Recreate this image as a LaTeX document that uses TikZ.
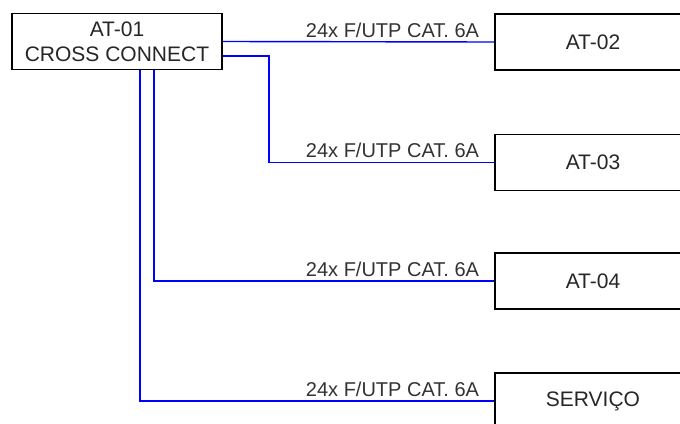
\documentclass[tikz,border=0pt]{standalone}
\usepackage{fontspec}
\setmainfont{Liberation Sans}
\begin{document}
\begin{tikzpicture}[x=1pt,y=-1pt,
 box/.style={draw=black,line width=1.6pt,minimum height=56pt,minimum width=196pt,inner sep=0pt,font=\fontsize{21}{25}\selectfont,text=black!85},
 cable/.style={draw=blue,line width=1.4pt},
 lbl/.style={anchor=base east,font=\fontsize{20}{22}\selectfont,text=black!80,inner sep=0pt}]
\useasboundingbox (0,0) rectangle (680,423);
\clip (0,0) rectangle (680,423);
\node[box,minimum width=210pt,align=center] (at01) at (117,41.5) {AT-01\\CROSS CONNECT};
\node[box] (at02) at (593,42) {AT-02};
\node[box] (at03) at (593,162.5) {AT-03};
\node[box] (at04) at (593,281) {AT-04};
\node[box] (serv) at (593,401) {SERVIÇO};
\draw[cable] (at01.east) -- (at02.west);
\draw[cable] ([yshift=-14.5pt]at01.east) -- ++(46,0) |- (at03.west);
\draw[cable] ([xshift=37pt]at01.south) |- (at04.west);
\draw[cable] ([xshift=23pt]at01.south) |- (serv.west);
\foreach \n in {at02,at03,at04,serv}
  \node[lbl] at ([xshift=-15pt,yshift=5pt]\n.west) {24x F/UTP CAT. 6A};
\end{tikzpicture}
\end{document}
